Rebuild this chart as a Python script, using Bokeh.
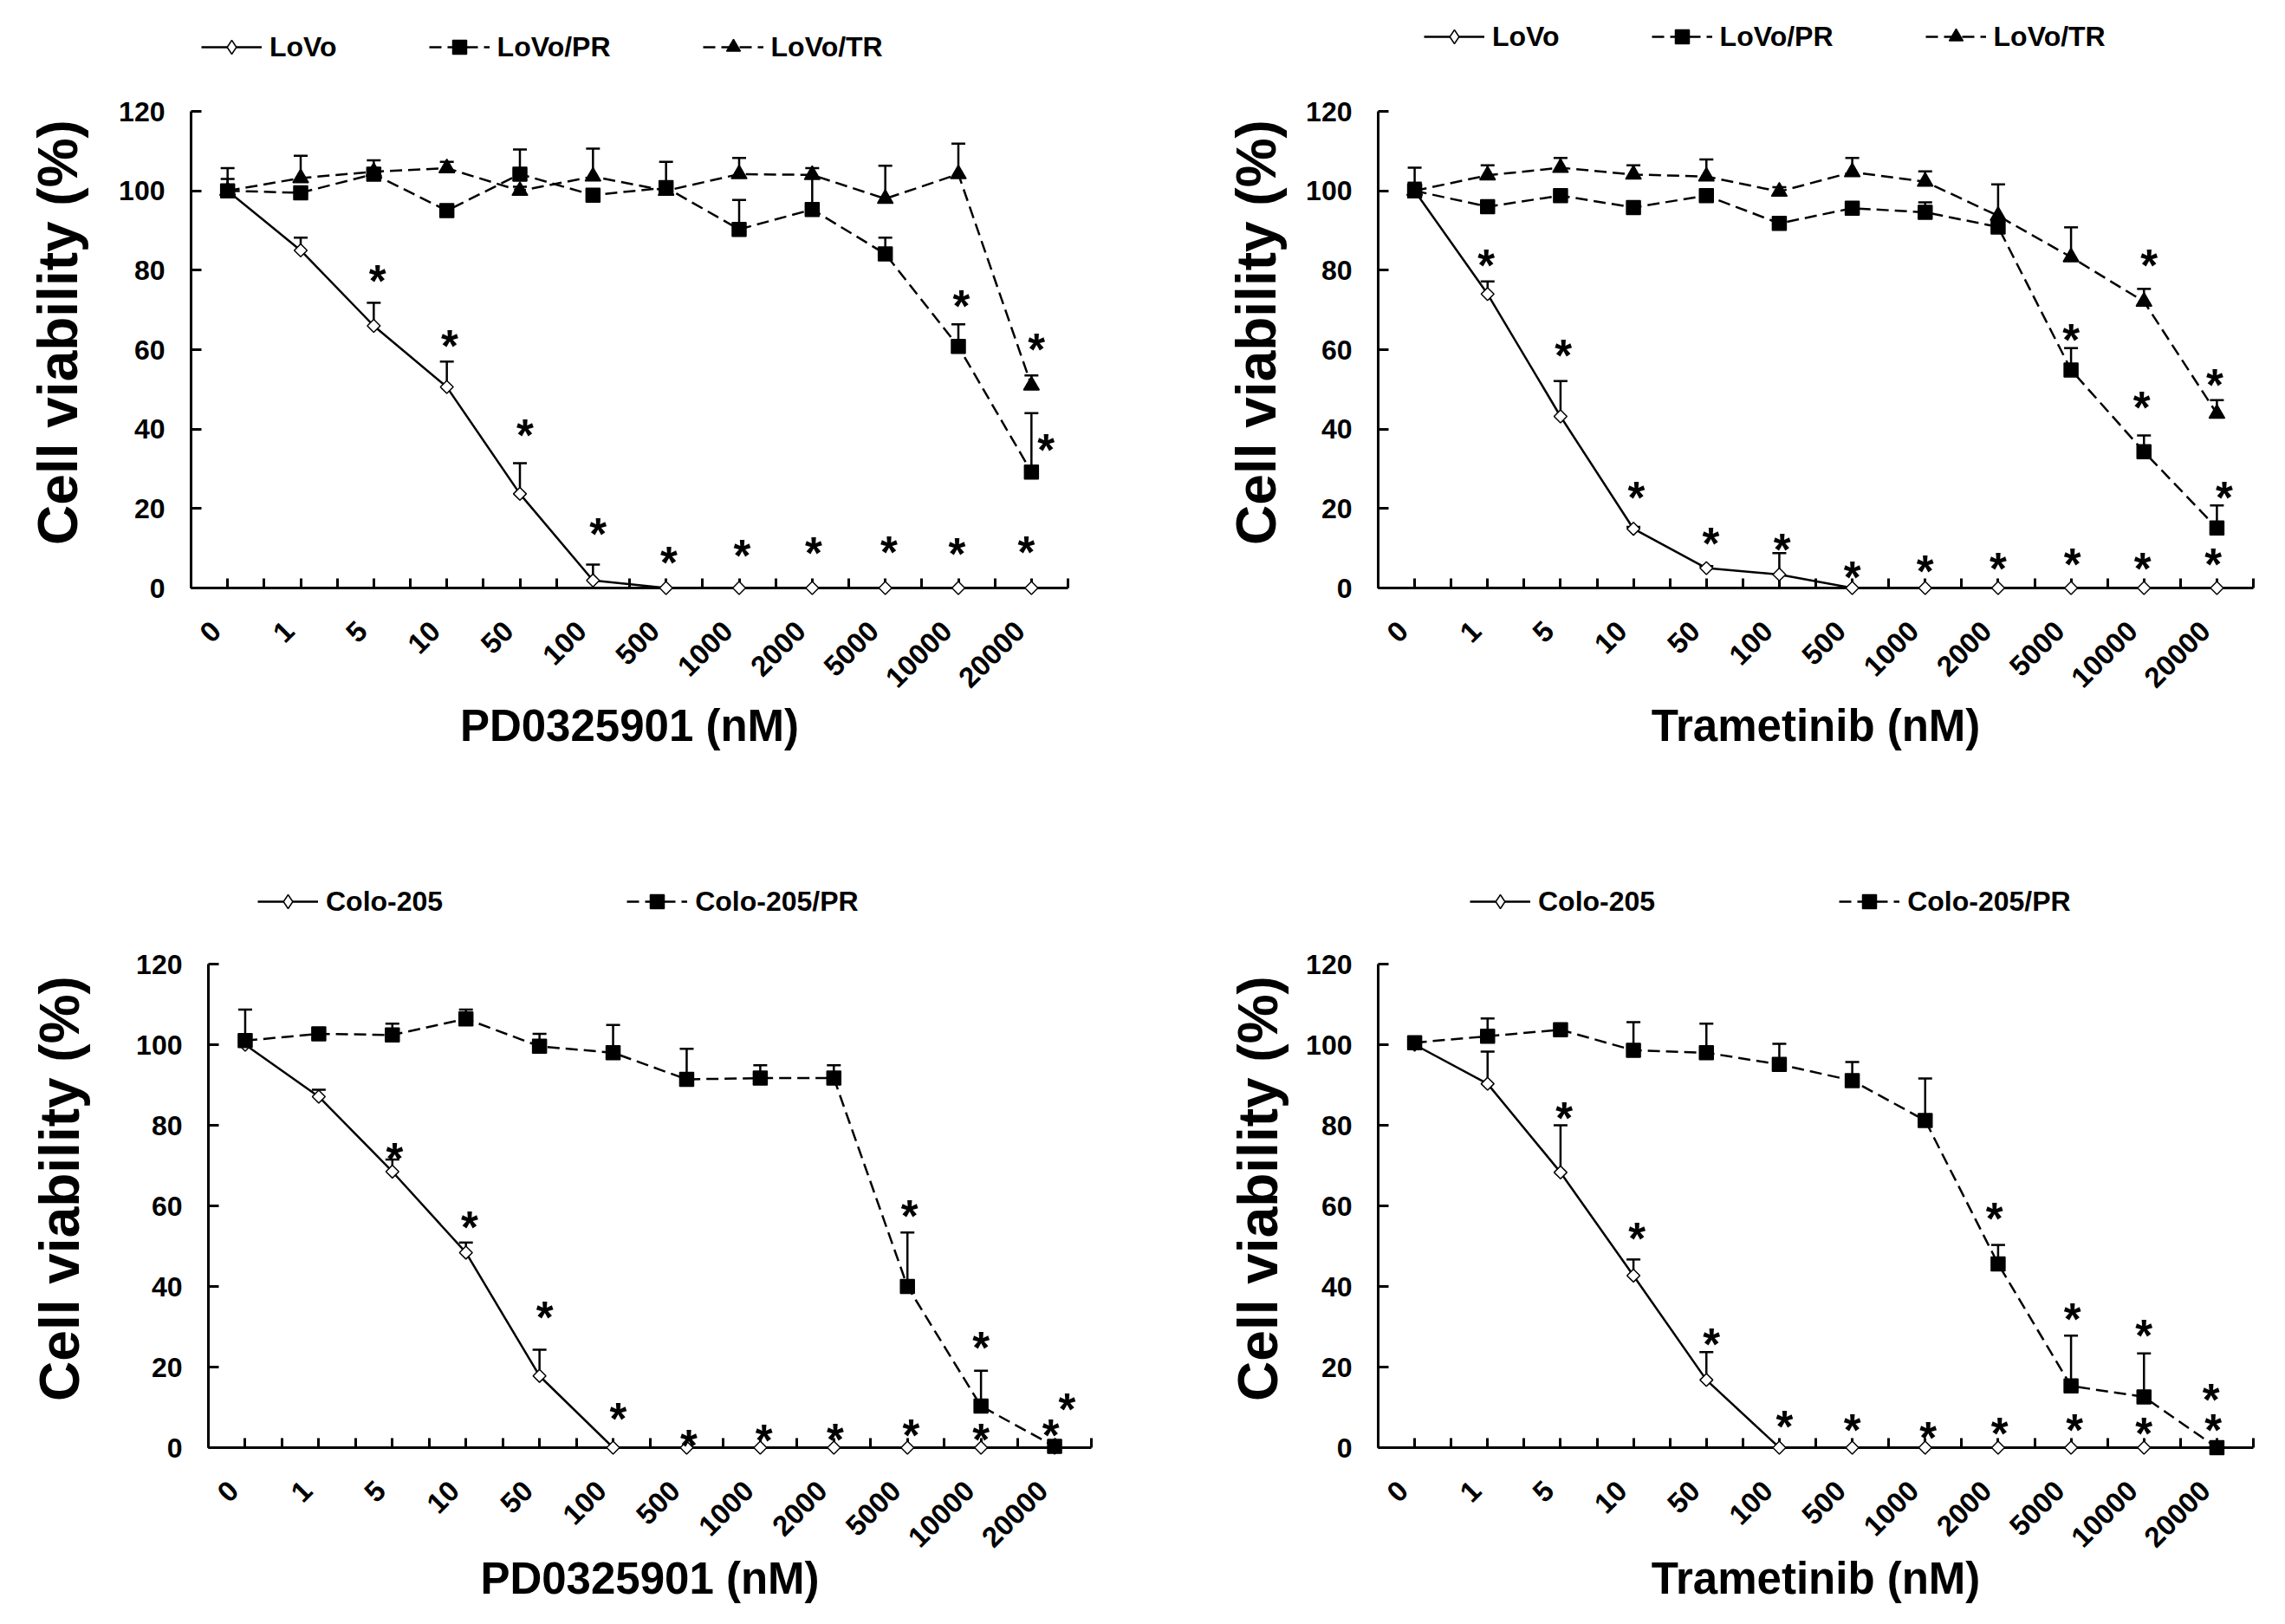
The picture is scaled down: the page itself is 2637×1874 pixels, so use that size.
import math
from bokeh.plotting import figure
from bokeh.models import (Range1d, FixedTicker, Whisker, TeeHead, ColumnDataSource,
                          Legend, LegendItem)
from bokeh.layouts import column, row
from bokeh.core.properties import value
from bokeh.embed import file_html
from bokeh.resources import INLINE

# ---------------- data ----------------
doses = ["0", "1", "5", "10", "50", "100", "500", "1000", "2000", "5000", "10000", "20000"]
y_ticks = [0, 20, 40, 60, 80, 100, 120]

# Panel A: PD0325901, LoVo lines
a_lovo = [100, 85, 66, 50.6, 23.7, 1.9, 0, 0, 0, 0, 0, 0]
a_lovo_err = [1, 3.2, 5.8, 6.4, 7.7, 4.0, 0, 0, 0, 0, 0, 0]
a_pr = [100, 99.5, 104.2, 95, 104.2, 98.9, 100.8, 90.3, 95.3, 84.1, 60.8, 29.2]
a_pr_err = [3, 1, 3.5, 1.5, 6.2, 1, 6.5, 7.4, 8, 4.1, 5.6, 14.8]
a_tr = [100, 103.2, 104.8, 105.7, 100, 103.6, 100, 104.2, 104, 98, 104.2, 51]
a_tr_err = [5.7, 5.6, 0.8, 1.6, 1, 7, 1, 4.1, 1.7, 8.3, 7.7, 2.5]
a_star_x = [2.05, 3.04, 4.07, 5.07, 6.04, 7.04, 8.02, 9.05, 9.98, 10.93, 10.04, 11.07, 11.2]
a_star_y = [79.6, 63.2, 40.8, 15.9, 8.8, 10.4, 11.2, 11.3, 11.0, 11.3, 73.4, 62.5, 37]

# Panel B: Trametinib, LoVo lines
b_lovo = [100, 74, 43.2, 14.9, 5, 3.4, 0, 0, 0, 0, 0, 0]
b_lovo_err = [2, 3.2, 8.9, 0.5, 0.5, 5.4, 0, 0, 0, 0, 0, 0]
b_pr = [100, 96, 98.8, 95.8, 98.8, 91.8, 95.6, 94.6, 90.9, 54.9, 34.3, 15.1]
b_pr_err = [2, 1, 1, 1, 1.5, 1, 1.5, 2.5, 1.5, 5.5, 4.1, 5.7]
b_tr = [100, 103.9, 105.8, 104.1, 103.6, 99.8, 104.7, 102.3, 93.7, 83.3, 72.1, 43.9]
b_tr_err = [5.8, 2.5, 2.5, 2.3, 4.3, 1.1, 3.6, 2.6, 7.9, 7.5, 3.2, 3.4]
b_star_x = [0.98, 2.04, 3.04, 4.06, 5.04, 6.0, 7.0, 8.0, 9.02, 9.98, 10.95,
            9.0, 9.97, 11.1, 10.07, 10.97]
b_star_y = [83.5, 60.9, 25, 13.6, 12.1, 5, 6.6, 7.2, 8.3, 7.2, 8.3,
            64.8, 47.7, 25, 83.5, 53.4]

# Panel C: PD0325901, Colo-205 lines
c_colo = [100, 87.1, 68.5, 48.4, 17.8, 0, 0, 0, 0, 0, 0, 0]
c_colo_err = [2, 1.7, 3, 2.5, 6.5, 0, 0, 0, 0, 0, 0, 0]
c_pr = [101, 102.7, 102.4, 106.4, 99.6, 98, 91.4, 91.7, 91.7, 40, 10.3, 0.3]
c_pr_err = [7.7, 1, 2.8, 2.3, 3.1, 6.9, 7.6, 3.2, 3.2, 13.4, 8.8, 0]
c_star_x = [2.03, 3.05, 4.07, 5.07, 6.03, 7.05, 8.02, 9.05, 10.0, 10.95, 9.03, 10.0, 11.17]
c_star_y = [73.9, 56.9, 34.6, 9.4, 2.8, 4.0, 4.4, 5.3, 4.4, 5.3, 59.7, 27, 11.9]

# Panel D: Trametinib, Colo-205 lines
d_colo = [100, 90.3, 68.3, 42.7, 16.8, 0, 0, 0, 0, 0, 0, 0]
d_colo_err = [1, 8, 11.7, 4, 6.9, 0, 0, 0, 0, 0, 0, 0]
d_pr = [100.5, 102.1, 103.7, 98.6, 98, 95.1, 91.1, 81.2, 45.6, 15.3, 12.6, 0]
d_pr_err = [1, 4.4, 1, 7, 7.2, 5.1, 4.6, 10.4, 4.7, 12.5, 10.8, 0]
d_star_x = [2.05, 3.05, 4.07, 5.07, 6.0, 7.04, 8.02, 9.05, 10.0, 10.95, 7.95, 9.02, 10.0, 10.92]
d_star_y = [84, 54.1, 27.9, 7.6, 6.7, 4.8, 5.7, 6.7, 5.7, 6.7, 59.1, 34.1, 30.1, 14.3]

# ---------------- styling ----------------
FONT = "Liberation Sans"
LABEL_SHIFT = -0.16
HEADROOM = 40          # px of empty frame above the 120 tick (keeps the y title centred as in the original)
STYLE = {
    "open": dict(marker="square", size=10.5, angle=math.pi / 4, fill_color="white",
                 dash="solid", legend_marker="diamond"),
    "sq":   dict(marker="square", size=16, angle=0, fill_color="black",
                 dash="14 7", legend_marker="square"),
    "tri":  dict(marker="triangle", size=18, angle=0, fill_color="black",
                 dash="14 7", legend_marker="triangle"),
}


def panel(series, star_x, star_y, xlabel, W, L, R, B, axis_h, ylab_standoff, xlab_standoff):
    n = len(doses)
    ymax = 120 + HEADROOM * 120.0 / axis_h
    H = axis_h + HEADROOM + B
    p = figure(width=W, height=H, min_border_left=L, min_border_right=R,
               min_border_top=0, min_border_bottom=B, title=None,
               x_range=Range1d(-0.5, n - 0.5), y_range=Range1d(0, ymax),
               output_backend="svg", toolbar_location=None)
    p.grid.visible = False
    p.outline_line_color = None
    p.background_fill_color = "white"
    p.border_fill_color = "white"

    xa = p.xaxis[0]
    ya = p.yaxis[0]
    xa.ticker = FixedTicker(ticks=[i + LABEL_SHIFT for i in range(n)],
                            minor_ticks=[k * 0.5 - 0.5 for k in range(2 * n + 1)])
    xa.major_label_overrides = {i + LABEL_SHIFT: d for i, d in enumerate(doses)}
    xa.major_tick_in = 0
    xa.major_tick_out = 0
    xa.minor_tick_in = 11
    xa.minor_tick_out = 0
    xa.major_label_orientation = math.pi / 4
    xa.major_label_standoff = 44
    xa.major_label_text_font_size = "33px"
    xa.axis_label = xlabel
    xa.axis_label_text_font_size = "51px"
    xa.axis_label_standoff = xlab_standoff

    ya.ticker = FixedTicker(ticks=y_ticks)
    ya.bounds = (0, 120)
    ya.major_tick_in = 12
    ya.major_tick_out = 0
    ya.minor_tick_in = 0
    ya.minor_tick_out = 0
    ya.major_label_standoff = 30
    ya.major_label_text_font_size = "32px"
    ya.axis_label = "Cell viability (%)"
    ya.axis_label_text_font_size = "64px"
    ya.axis_label_standoff = ylab_standoff

    for ax in (xa, ya):
        ax.axis_line_width = 3
        ax.axis_line_color = "black"
        ax.major_tick_line_width = 3
        ax.minor_tick_line_width = 3
        ax.major_tick_line_color = "black"
        ax.minor_tick_line_color = "black"
        ax.major_label_text_font = FONT
        ax.major_label_text_font_style = "bold"
        ax.major_label_text_color = "black"
        ax.axis_label_text_font = FONT
        ax.axis_label_text_font_style = "bold"
        ax.axis_label_text_color = "black"

    xs = list(range(n))
    for name, ys, errs, kind in series:
        st = STYLE[kind]
        src = ColumnDataSource(dict(x=xs, y=ys))
        p.line("x", "y", source=src, line_color="black", line_width=2.5,
               line_dash=st["dash"])
        wx = [x for x, e in zip(xs, errs) if e > 0]
        wy = [y for y, e in zip(ys, errs) if e > 0]
        wt = [y + e for y, e in zip(ys, errs) if e > 0]
        wsrc = ColumnDataSource(dict(x=wx, y=wy, top=wt))
        wh = Whisker(source=wsrc, base="x", lower="y", upper="top",
                     line_color="black", line_width=2.5, lower_head=None,
                     upper_head=TeeHead(size=16, line_width=2.5, line_color="black"),
                     level="glyph")
        p.add_layout(wh)
        sc = p.scatter("x", "y", source=src, marker=st["marker"], size=st["size"],
                       angle=st["angle"], fill_color=st["fill_color"],
                       line_color="black", line_width=1.5)
        sc.level = "overlay"

    stars = p.text(x=star_x, y=star_y, text=["*"] * len(star_x),
                   text_font=value(FONT), text_font_style="bold",
                   text_font_size="51px", text_align="center",
                   text_baseline="middle", y_offset=11, text_color="black")
    stars.level = "overlay"
    return p


def legend_fig(series, W, H, vx, vy, spacing):
    """A strip above each panel that holds the panel's legend keys."""
    f = figure(width=W, height=H, min_border=0, title=None,
               x_range=Range1d(0, 1), y_range=Range1d(0, 1),
               x_axis_type=None, y_axis_type=None,
               output_backend="svg", toolbar_location=None)
    f.grid.visible = False
    f.outline_line_color = None
    f.background_fill_color = "white"
    f.border_fill_color = "white"
    items = []
    for name, _ys, _errs, kind in series:
        st = STYLE[kind]
        # key renderers sit outside the visible range; only their legend keys show
        ln = f.line([-3, -2], [-3, -2], line_color="black", line_width=2.5,
                    line_dash=st["dash"])
        sc = f.scatter([-3], [-3], marker=st["legend_marker"], size=16,
                       fill_color=st["fill_color"], line_color="black", line_width=1.5)
        items.append(LegendItem(label=name, renderers=[ln, sc]))
    leg = Legend(items=items, orientation="horizontal", location=(vx, vy),
                 spacing=spacing, glyph_width=70, glyph_height=40,
                 label_standoff=9, padding=0, margin=0,
                 border_line_color=None, background_fill_alpha=0,
                 label_text_font=FONT, label_text_font_style="bold",
                 label_text_font_size="32px", label_text_color="black")
    f.add_layout(leg)
    return f


sa = [("LoVo", a_lovo, a_lovo_err, "open"),
      ("LoVo/PR", a_pr, a_pr_err, "sq"),
      ("LoVo/TR", a_tr, a_tr_err, "tri")]
sb = [("LoVo", b_lovo, b_lovo_err, "open"),
      ("LoVo/PR", b_pr, b_pr_err, "sq"),
      ("LoVo/TR", b_tr, b_tr_err, "tri")]
sc_ = [("Colo-205", c_colo, c_colo_err, "open"),
       ("Colo-205/PR", c_pr, c_pr_err, "sq")]
sd = [("Colo-205", d_colo, d_colo_err, "open"),
      ("Colo-205/PR", d_pr, d_pr_err, "sq")]

# row 1: legend strip 88 px, plots 871 px
la = legend_fig(sa, 1312, 88, vx=232, vy=14, spacing=106)
lb = legend_fig(sb, 1309, 88, vx=331, vy=26, spacing=106)
pa = panel(sa, a_star_x, a_star_y, "PD0325901 (nM)",
           W=1312, L=220, R=80, B=281, axis_h=550, ylab_standoff=31, xlab_standoff=2)
pb = panel(sb, b_star_x, b_star_y, "Trametinib (nM)",
           W=1309, L=278, R=21, B=281, axis_h=550, ylab_standoff=18, xlab_standoff=2)

# row 2: legend strip 113 px, plots 793 px
lc = legend_fig(sc_, 1312, 113, vx=297, vy=12, spacing=212)
ld = legend_fig(sd, 1309, 113, vx=384, vy=12, spacing=212)
pc = panel(sc_, c_star_x, c_star_y, "PD0325901 (nM)",
           W=1312, L=240, R=53, B=195, axis_h=558, ylab_standoff=49, xlab_standoff=-6)
pd_ = panel(sd, d_star_x, d_star_y, "Trametinib (nM)",
            W=1309, L=278, R=21, B=195, axis_h=558, ylab_standoff=16, xlab_standoff=-6)

layout = column(row(la, lb), row(pa, pb), row(lc, ld), row(pc, pd_))
open("out.html", "w").write(file_html(layout, INLINE))
